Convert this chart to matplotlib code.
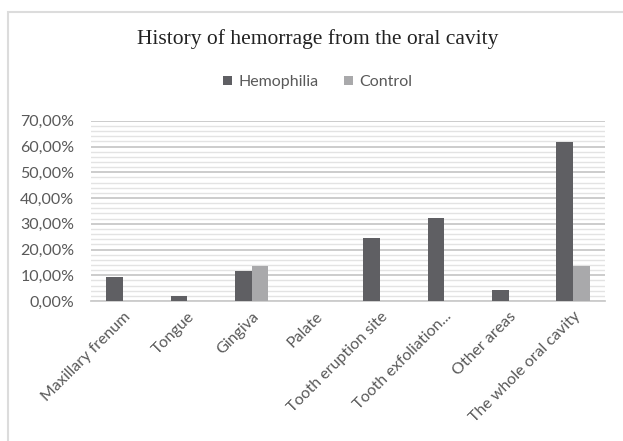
import numpy as np
import matplotlib.pyplot as plt
from matplotlib.patches import Rectangle
from matplotlib.ticker import MultipleLocator, FuncFormatter

# data (percent)
categories = ['Maxillary frenum', 'Tongue', 'Gingiva', 'Palate',
              'Tooth eruption site', 'Tooth exfoliation...', 'Other areas',
              'The whole oral cavity']
hemophilia = [9.4, 1.9, 11.5, 0.0, 24.3, 32.3, 4.1, 61.9]
control = [0.0, 0.0, 13.5, 0.0, 0.0, 0.0, 0.0, 13.5]
series_names = ['Hemophilia', 'Control']

fig = plt.figure(figsize=(6.23, 4.41), dpi=100)
ax = fig.add_axes([0.146, 0.3175, 0.825, 0.4085])

# light frame round the chart area, like the Excel chart border
fig.patches.append(Rectangle((8 / 623, -0.05), 1.1, 1 - 12 / 441 + 0.05,
                             transform=fig.transFigure, fill=False,
                             edgecolor='#dcdcdc', linewidth=1.5))

x = np.arange(len(categories))
w = 0.26
ax.bar(x - w / 2, hemophilia, w, color='#5f5f63', label=series_names[0], zorder=3)
ax.bar(x + w / 2, control, w, color='#a9a9ab', label=series_names[1], zorder=3)

ax.set_xlim(-0.5, len(categories) - 0.5)
ax.set_ylim(0, 70)
ax.yaxis.set_major_locator(MultipleLocator(10))
ax.yaxis.set_minor_locator(MultipleLocator(2))
ax.yaxis.set_major_formatter(FuncFormatter(lambda v, p: ('%.2f%%' % v).replace('.', ',')))
ax.grid(axis='y', which='major', color='#cccccc', linewidth=1.4, zorder=0)
ax.grid(axis='y', which='minor', color='#e3e3e3', linewidth=1.0, zorder=0)

for s in ['top', 'right', 'left']:
    ax.spines[s].set_visible(False)
ax.spines['bottom'].set_color('#cccccc')
ax.spines['bottom'].set_linewidth(1.3)

ax.set_xticks(x)
ax.set_xticklabels(categories, rotation=45, ha='right', rotation_mode='anchor',
                   family='Lato', fontsize=11.5, color='#595959')
ax.tick_params(axis='both', which='both', length=0)
ax.tick_params(axis='x', pad=6)
ax.tick_params(axis='y', pad=12)
for lab in ax.get_yticklabels():
    lab.set_family('Lato')
    lab.set_fontsize(11.5)
    lab.set_color('#595959')

fig.text(0.51, 1 - 39 / 441, 'History of hemorrage from the oral cavity',
         ha='center', va='center', family='Liberation Serif', fontsize=15.5,
         color='#222222')

leg = fig.legend(loc='center', bbox_to_anchor=(0.51, 1 - 82 / 441), ncol=2,
                 frameon=False, handlelength=0.55, handleheight=0.55,
                 handletextpad=0.4, columnspacing=1.6,
                 prop={'family': 'Lato', 'size': 11.5})
for t in leg.get_texts():
    t.set_color('#595959')

fig.savefig('out.png', dpi=100, facecolor='white')
